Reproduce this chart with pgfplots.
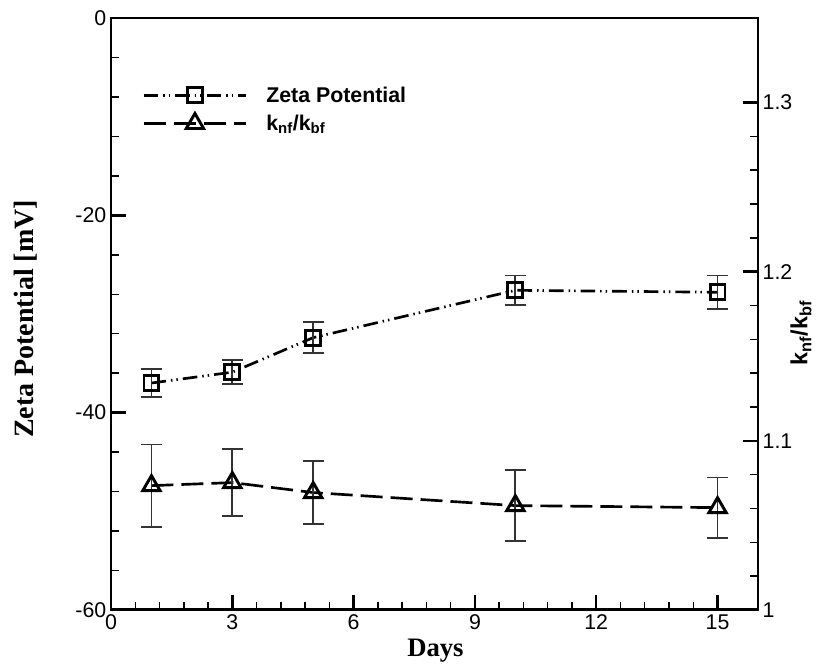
\documentclass[border=0pt]{standalone}
\usepackage{fontspec}
\setmainfont{Liberation Serif}
\setsansfont{Liberation Sans}
\usepackage{pgfplots}
\pgfplotsset{compat=1.18}

\pgfplotstableread{
day zeta err
1  -37.0 1.45
3  -35.9 1.2
5  -32.4 1.55
10 -27.6 1.5
15 -27.8 1.7
}\zetadata

\pgfplotstableread{
day k err
1  1.0735 0.0243
3  1.0753 0.0200
5  1.0694 0.0188
10 1.0617 0.0210
15 1.0605 0.0178
}\kdata

\tikzset{
  zetaline/.style={black, line width=2pt,
    dash pattern=on 11pt off 3.75pt on 1.1pt off 3pt on 1.1pt off 3.75pt,
    mark=square, mark size=5.6pt,
    mark options={solid, line width=2.2pt}},
  kline/.style={black, line width=2pt,
    dash pattern=on 16.5pt off 6pt,
    mark=triangle, mark size=7.5pt,
    mark options={solid, line width=2.2pt}},
}

\pgfplotsset{
  common/.style={
    width=485.25pt, height=444pt, scale only axis,
    xmin=0, xmax=16,
    tick align=inside,
    major tick length=11pt, minor tick length=6pt,
    every major tick/.style={line width=1.8pt, black},
    every minor tick/.style={line width=1.1pt, black},
    tick label style={font=\sffamily\fontsize{16}{19}\selectfont},
    /pgf/number format/assume math mode=true,
    error bars/error bar style={solid, line width=1.4pt, black!80},
    error bars/error mark options={solid, rotate=90, mark size=7.9pt, line width=1.4pt, black!80},
  },
}

\begin{document}
\begin{tikzpicture}
\begin{axis}[common,
  ymin=-60, ymax=0,
  xtick={0,3,...,15}, minor x tick num=4,
  ytick={-60,-40,-20,0}, minor y tick num=4,
  xtick pos=bottom, ytick pos=left,
  axis line style={line width=2.2pt},
  xlabel={\bfseries Days},
  xlabel style={font=\fontsize{20}{22}\selectfont, at={(axis description cs:0.5015,-0.0794)}, anchor=base},
  ylabel={\bfseries Zeta Potential [mV]},
  ylabel style={font=\fontsize{21}{24}\selectfont, at={(axis description cs:-0.1314,0.4916)}, anchor=center, rotate=0},
]
\addplot[zetaline, error bars/.cd, y dir=both, y explicit]
  table[x=day, y=zeta, y error=err] {\zetadata};
\coordinate (bl) at (rel axis cs:-0.1716,-0.0929);
\coordinate (tr) at (rel axis cs:1.1005,1.0304);
\end{axis}

\begin{axis}[common,
  ymin=1, ymax=1.35,
  xtick=\empty,
  ytick={1,1.1,1.2,1.3}, minor y tick num=4,
  ytick pos=right,
  yticklabel style={/pgf/number format/fixed},
  axis line style={draw=none},
  ylabel={\sffamily\bfseries k\textsubscript{nf}/k\textsubscript{bf}},
  ylabel style={font=\fontsize{17.5}{20}\selectfont, at={(axis description cs:1.0665,0.468)}, anchor=center, rotate=0},
  legend style={at={(axis description cs:0.0479,0.889)}, anchor=north west,
    draw=none, fill=none, font=\sffamily\bfseries\fontsize{16}{19}\selectfont,
    row sep=4pt, inner sep=0pt,
    /tikz/every odd column/.append style={column sep=12pt}},
  legend cell align=left,
  legend image code/.code={\draw[#1, mark repeat=2, mark phase=2]
    plot coordinates {(0pt,0pt) (38.5pt,0pt) (77pt,0pt)};},
]
\addlegendimage{zetaline}
\addlegendentry{Zeta Potential}
\addplot[kline, error bars/.cd, y dir=both, y explicit]
  table[x=day, y=k, y error=err] {\kdata};
\addlegendentry{k\textsubscript{nf}/k\textsubscript{bf}}
\end{axis}
\pgfresetboundingbox
\path[use as bounding box] (bl) rectangle (tr);
\end{tikzpicture}
\end{document}
